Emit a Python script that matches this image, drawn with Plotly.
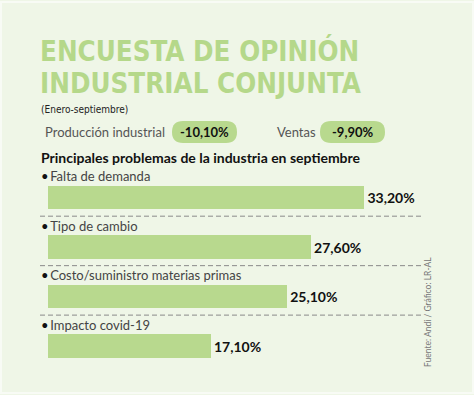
import plotly.graph_objects as go

categories = ["Falta de demanda", "Tipo de cambio", "Costo/suministro materias primas", "Impacto covid-19"]
values = [33.2, 27.6, 25.1, 17.1]
value_labels = ["33,20%", "27,60%", "25,10%", "17,10%"]
kpi_names = ["Producción industrial", "Ventas"]
kpi_values = ["-10,10%", "-9,90%"]

W, H = 474, 395
ML, MR, MT, MB = 48, 0, 150, 0
PW, PH = W - ML - MR, H - MT - MB
PX_PER_UNIT = 9.53

def px(xp):
    return (xp - ML) / PW

def py(yp):
    return (H - MB - yp) / PH

BG = "#eff6e7"
GREEN = "#b8d98e"
TITLE_GREEN = "#b5d88a"
FONT = "Lato"
TFONT = "DejaVu Sans Condensed"

fig = go.Figure()
fig.add_trace(go.Bar(
    x=values, y=categories, orientation="h",
    marker=dict(color=GREEN, line=dict(width=0)),
    width=0.47,
    text=value_labels, textposition="outside",
    textfont=dict(family=FONT, size=14, color="#111111", weight="bold"),
    cliponaxis=False, hoverinfo="skip",
))

annotations = []
shapes = []

# category labels
for c in categories:
    annotations.append(dict(
        x=0, y=c, xref="x", yref="y",
        text="<span style='color:#111'>•</span>\u2009" + c, showarrow=False,
        xanchor="left", yanchor="middle", xshift=-9, yshift=21.5,
        font=dict(family=FONT, size=13, color="#444444"),
    ))

# dashed separators
for i in range(len(categories) - 1):
    shapes.append(dict(
        type="line", xref="paper", yref="y",
        x0=px(40), x1=px(422), y0=i + 0.375, y1=i + 0.375,
        line=dict(color="#8a8a8a", width=1, dash="5px,3px"),
    ))

# title (inner size 27.5, line spacing ~32px from base size)
annotations.append(dict(
    x=px(38), y=py(67), xref="paper", yref="paper", showarrow=False,
    text="<span style='font-size:27.5px'>ENCUESTA DE OPINIÓN</span><br>"
         "<span style='font-size:27.5px'>INDUSTRIAL CONJUNTA</span>",
    align="left", xanchor="left", yanchor="middle",
    font=dict(family=TFONT, size=24.7, color=TITLE_GREEN, weight="bold"),
))
annotations.append(dict(
    x=px(39), y=py(109), xref="paper", yref="paper", showarrow=False,
    text="(Enero-septiembre)", xanchor="left", yanchor="middle",
    font=dict(family="DejaVu Sans Condensed", size=10, color="#222222"),
))
annotations.append(dict(
    x=px(39), y=py(157), xref="paper", yref="paper", showarrow=False,
    text="<b>Principales problemas de la industria en septiembre</b>",
    xanchor="left", yanchor="middle",
    font=dict(family=FONT, size=14, color="#111111"),
))
annotations.append(dict(
    x=px(428), y=py(312), xref="paper", yref="paper", showarrow=False,
    text="Fuente: Andi / Gráfico: LR-AL", textangle=-90,
    xanchor="center", yanchor="middle",
    font=dict(family=FONT, size=8.5, color="#777777"),
))

# KPI row
def pill(x0, x1, y0, y1):
    r = (y1 - y0) / 2
    pts = [
        f"M {px(x0 + r)},{py(y0)}",
        f"L {px(x1 - r)},{py(y0)}",
        f"Q {px(x1)},{py(y0)} {px(x1)},{py((y0 + y1) / 2)}",
        f"Q {px(x1)},{py(y1)} {px(x1 - r)},{py(y1)}",
        f"L {px(x0 + r)},{py(y1)}",
        f"Q {px(x0)},{py(y1)} {px(x0)},{py((y0 + y1) / 2)}",
        f"Q {px(x0)},{py(y0)} {px(x0 + r)},{py(y0)}",
        "Z",
    ]
    return dict(type="path", xref="paper", yref="paper", path=" ".join(pts),
                fillcolor=GREEN, line=dict(width=0), layer="below")

name_x = [43, 275]
pill_x = [(172, 237), (320, 385)]
for nm, nx, val, (a, b) in zip(kpi_names, name_x, kpi_values, pill_x):
    annotations.append(dict(
        x=px(nx), y=py(132), xref="paper", yref="paper", showarrow=False,
        text=nm, xanchor="left", yanchor="middle",
        font=dict(family=FONT, size=13, color="#555555"),
    ))
    shapes.append(pill(a, b, 121, 143))
    annotations.append(dict(
        x=px((a + b) / 2), y=py(132), xref="paper", yref="paper", showarrow=False,
        text=f"<b>{val}</b>", xanchor="center", yanchor="middle",
        font=dict(family=FONT, size=13, color="#111111"),
    ))

# outer white frame
shapes.append(dict(type="rect", xref="paper", yref="paper",
                   x0=px(1), x1=px(473), y0=py(393), y1=py(2),
                   line=dict(color="#f8fbf5", width=2), layer="below"))

fig.update_layout(
    width=W, height=H,
    margin=dict(l=ML, r=MR, t=MT, b=MB, autoexpand=False),
    paper_bgcolor=BG, plot_bgcolor=BG,
    showlegend=False,
    xaxis=dict(range=[0, PW / PX_PER_UNIT], visible=False, fixedrange=True),
    yaxis=dict(type="category", categoryorder="array", categoryarray=categories,
               range=[3.99, -0.963], visible=False, fixedrange=True),
    annotations=annotations, shapes=shapes,
    bargap=0,
)

fig.write_html("out.html", config={"displayModeBar": False, "staticPlot": True},
               post_script="document.body.style.margin='0';")
